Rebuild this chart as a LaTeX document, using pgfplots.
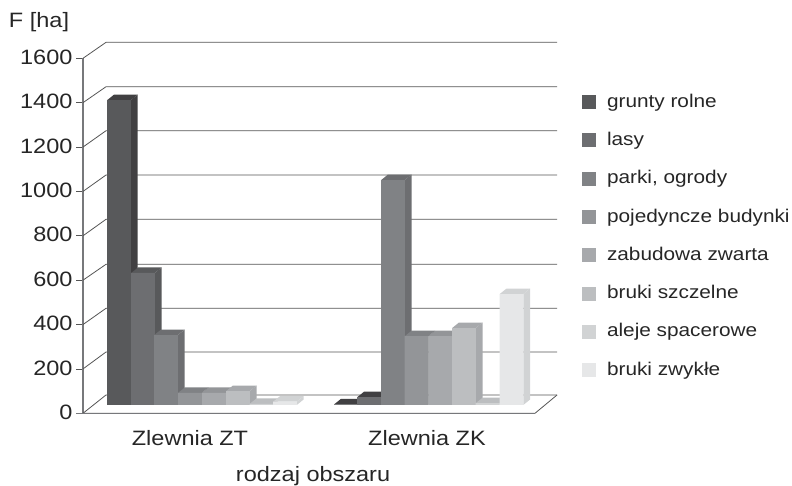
\documentclass[border=0pt]{standalone}
\usepackage{fontspec}
\setmainfont[FakeStretch=1.13]{Liberation Sans}
\usepackage{pgfplots}
\pgfplotsset{compat=1.18}
\definecolor{c0}{HTML}{414042}
\definecolor{c1}{HTML}{58595B}
\definecolor{c2}{HTML}{6D6E71}
\definecolor{c3}{HTML}{808285}
\definecolor{c4}{HTML}{939598}
\definecolor{c5}{HTML}{A7A9AC}
\definecolor{c6}{HTML}{BCBEC0}
\definecolor{c7}{HTML}{D1D3D4}
\definecolor{c8}{HTML}{E6E7E8}
\definecolor{gridc}{HTML}{555555}
\definecolor{axc}{HTML}{77787B}
\newcommand{\tdbar}[3]{%
  \pgfmathsetmacro{\xz}{#1-11.8}%
  \pgfmathsetmacro{\xy}{#1-5}%
  \pgfmathsetmacro{\xa}{#1+11.8}%
  \pgfmathsetmacro{\xb}{#1+18.6}%
  \pgfmathsetmacro{\yb}{#2+24.8}%
  \edef\tmp{\noexpand\addplot[forget plot,fill=#3,draw=none] coordinates {(\xa,0)(\xb,24.8)(\xb,\yb)(\xa,#2)} -- cycle;}\tmp
  \edef\tmp{\noexpand\addplot[forget plot,fill=#3,draw=none] coordinates {(\xz,#2)(\xy,\yb)(\xb,\yb)(\xa,#2)} -- cycle;}\tmp
}
\begin{document}
\begin{tikzpicture}[x=1pt,y=1pt]
\useasboundingbox (0,0) rectangle (792,486);
% walls, grid, scale
\begin{axis}[
  at={(83pt,72.7pt)}, anchor=south west,
  scale only axis, width=452pt, height=355pt,
  xmin=83, xmax=535, ymin=0, ymax=1600,
  clip=false,
  axis x line=bottom, axis y line=left,
  axis line style={-, color=axc, line width=1.2pt},
  ytick={0,200,...,1600},
  xtick={190,427},
  xticklabels={Zlewnia ZT,Zlewnia ZK},
  tick align=outside, major tick length=7pt,
  ytick style={color=gridc, line width=0.8pt},
  xtick style={draw=none},
  /pgf/number format/assume math mode=true,
  /pgf/number format/1000 sep={},
  tick label style={font=\fontsize{20.8}{24}\selectfont, color=black!85},
  label style={font=\fontsize{20.8}{24}\selectfont, color=black!85},
  yticklabel style={xshift=0pt,yshift=1pt},
  xticklabel style={yshift=-7pt},
  xlabel={rodzaj obszaru},
  ylabel={F [ha]},
  x label style={at={(axis description cs:0.509,-0.177)},anchor=center},
  y label style={at={(axis description cs:-0.0973,1.102)},rotate=-90,anchor=center},
]
\addplot[axc, line width=1.2pt] coordinates {(76,0)(83,0)};
\addplot[gridc, line width=0.8pt] coordinates {(83,0)(106,82.5)(557,82.5)};
\addplot[gridc, line width=0.8pt] coordinates {(83,0)(535,0)(557,82.5)};
\addplot[gridc, line width=0.8pt] coordinates {(83,200)(106,276.2)(557,276.2)};
\addplot[gridc, line width=0.8pt] coordinates {(83,400)(106,473.2)(557,473.2)};
\addplot[gridc, line width=0.8pt] coordinates {(83,600)(106,671.5)(557,671.5)};
\addplot[gridc, line width=0.8pt] coordinates {(83,800)(106,874.3)(557,874.3)};
\addplot[gridc, line width=0.8pt] coordinates {(83,1000)(106,1073.9)(557,1073.9)};
\addplot[gridc, line width=0.8pt] coordinates {(83,1200)(106,1273.5)(557,1273.5)};
\addplot[gridc, line width=0.8pt] coordinates {(83,1400)(106,1471.8)(557,1471.8)};
\addplot[gridc, line width=0.8pt] coordinates {(83,1600)(106,1671.9)(557,1671.9)};
\addplot[axc, line width=1.2pt] coordinates {(83,0)(535,0)};
\end{axis}
% bars: zero lies on the middle plane of the floor
\begin{axis}[
  at={(83pt,72.7pt)}, anchor=south west,
  scale only axis, width=452pt, height=355pt,
  xmin=83, xmax=535, ymin=-37.4, ymax=1562.6,
  clip=false, hide axis,
  legend cell align=left,
  legend style={at={(axis description cs:1.104,0.9017)},anchor=north west,
    draw=none, fill=none, row sep=20.3pt, column sep=11pt, inner sep=0pt, outer sep=0pt,
    font=\fontsize{18.4}{22}\selectfont, text=black!85,
    nodes={inner sep=0pt, text height=14pt, text depth=4pt}},
  legend image code/.code={\fill[#1,draw=none] (0pt,-7pt) rectangle (14pt,7pt);},
]
\tdbar{119}{1374}{c0}\tdbar{346}{3}{c0}
\addplot[ybar,bar width=23.6pt,bar shift=0pt,fill=c1,draw=none] coordinates {(119,1374)(346,3)};
\addlegendentry{grunty rolne}
\tdbar{143}{595}{c1}\tdbar{369}{35}{c0}
\addplot[ybar,bar width=23.6pt,bar shift=0pt,fill=c2,draw=none] coordinates {(143,595)(369,35)};
\addlegendentry{lasy}
\tdbar{166}{315}{c2}\tdbar{393}{1014}{c2}
\addplot[ybar,bar width=23.6pt,bar shift=0pt,fill=c3,draw=none] coordinates {(166,315)(393,1014)};
\addlegendentry{parki, ogrody}
\tdbar{190}{55}{c3}\tdbar{416.5}{310}{c3}
\addplot[ybar,bar width=23.6pt,bar shift=0pt,fill=c4,draw=none] coordinates {(190,55)(416.5,310)};
\addlegendentry{pojedyncze budynki}
\tdbar{214}{55}{c4}\tdbar{440.5}{310}{c4}
\addplot[ybar,bar width=23.6pt,bar shift=0pt,fill=c5,draw=none] coordinates {(214,55)(440.5,310)};
\addlegendentry{zabudowa zwarta}
\tdbar{238}{63}{c5}\tdbar{464}{347}{c5}
\addplot[ybar,bar width=23.6pt,bar shift=0pt,fill=c6,draw=none] coordinates {(238,63)(464,347)};
\addlegendentry{bruki szczelne}
\tdbar{261.5}{5}{c6}\tdbar{487.5}{8}{c6}
\addplot[ybar,bar width=23.6pt,bar shift=0pt,fill=c7,draw=none] coordinates {(261.5,5)(487.5,8)};
\addlegendentry{aleje spacerowe}
\tdbar{285}{15}{c7}\tdbar{511.5}{500}{c7}
\addplot[ybar,bar width=23.6pt,bar shift=0pt,fill=c8,draw=none] coordinates {(285,15)(511.5,500)};
\addlegendentry{bruki zwykłe}
\end{axis}
\end{tikzpicture}
\end{document}
